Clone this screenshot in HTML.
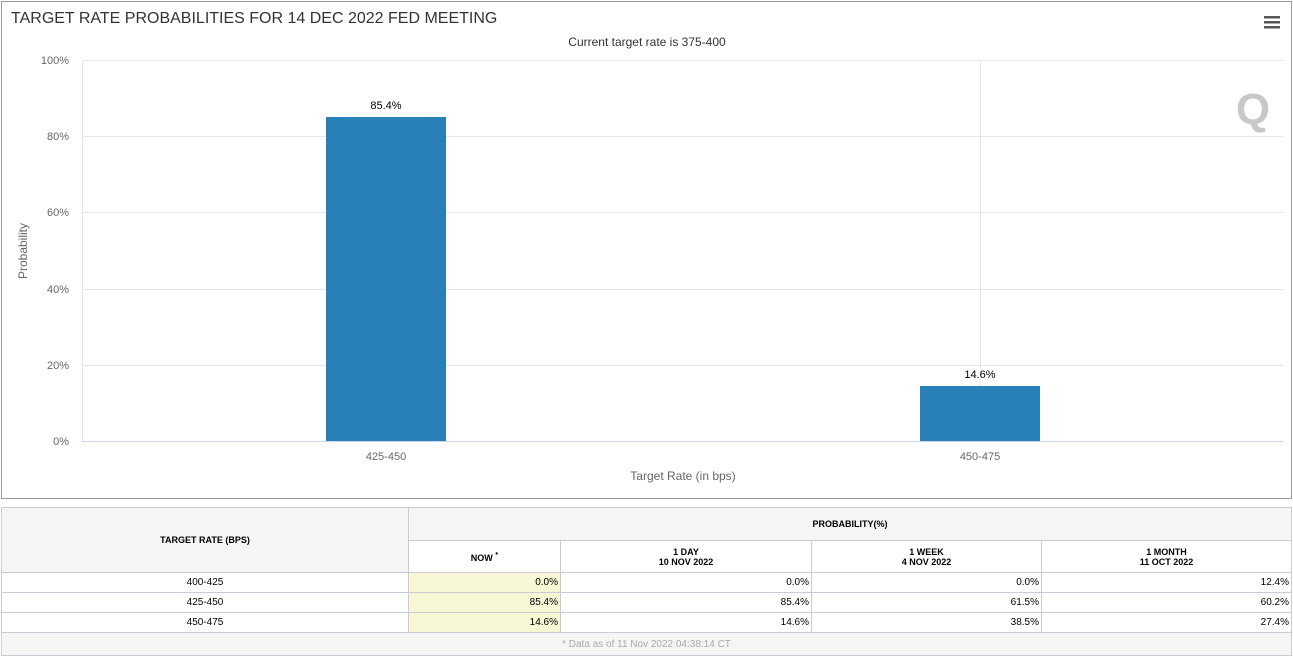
<!DOCTYPE html>
<html><head><style>
body{margin:0;width:1293px;height:653px;background:#fff;font-family:"Liberation Sans",sans-serif;position:relative;overflow:hidden}
.box{position:absolute;left:1px;top:1px;width:1289px;height:496px;border:1px solid #999}
table{position:absolute;left:1px;top:507px;width:1291px;border-collapse:collapse;font-size:10px;color:#000}
td{border:1px solid #c9cbd6;padding:0 2px;}
th{border:1px solid #c9cbd6;background:#f5f5f5;font-size:9px;font-weight:bold;}
.r td{height:19px;text-align:right}
.r td:first-child{text-align:center}
.y{background:#f7f7d5}
</style></head><body>
<div class="box"></div>
<svg width="1293" height="500" style="position:absolute;left:0;top:0" font-family="Liberation Sans, sans-serif">
<text x="11" y="23" font-size="16" fill="#333">TARGET RATE PROBABILITIES FOR 14 DEC 2022 FED MEETING</text>
<text x="647" y="46" font-size="12" fill="#333" text-anchor="middle">Current target rate is 375-400</text>
<g fill="#555"><rect x="1264" y="16" width="16" height="2.5"/><rect x="1264" y="21" width="16" height="2.5"/><rect x="1264" y="26" width="16" height="2.5"/></g>
<g stroke="#e6e6e6" stroke-width="1">
<line x1="82" y1="60.5" x2="1283" y2="60.5"/><line x1="82" y1="136.5" x2="1283" y2="136.5"/><line x1="82" y1="212.5" x2="1283" y2="212.5"/><line x1="82" y1="289.5" x2="1283" y2="289.5"/><line x1="82" y1="365.5" x2="1283" y2="365.5"/>
<line x1="82.5" y1="60" x2="82.5" y2="441"/><line x1="980.5" y1="60" x2="980.5" y2="441"/>
</g>
<line x1="82" y1="441.5" x2="1283" y2="441.5" stroke="#ccd6eb"/>
<g font-size="11" fill="#666" text-anchor="end">
<text x="69" y="64">100%</text><text x="69" y="140">80%</text><text x="69" y="216">60%</text><text x="69" y="293">40%</text><text x="69" y="369">20%</text><text x="69" y="445">0%</text></g>
<text transform="translate(27,251) rotate(-90)" font-size="12" fill="#666" text-anchor="middle">Probability</text>
<text x="1253" y="124" font-size="44" font-weight="bold" fill="#c8c8c8" text-anchor="middle">Q</text>
<rect x="326" y="117" width="120" height="324" fill="#2980b9"/>
<rect x="920" y="386" width="120" height="55" fill="#2980b9"/>
<text x="386" y="109" font-size="11" fill="#000" text-anchor="middle">85.4%</text>
<text x="980" y="378" font-size="11" fill="#000" text-anchor="middle">14.6%</text>
<text x="386" y="460" font-size="11" fill="#666" text-anchor="middle">425-450</text>
<text x="980" y="460" font-size="11" fill="#666" text-anchor="middle">450-475</text>
<text x="683" y="480" font-size="12" fill="#666" text-anchor="middle">Target Rate (in bps)</text>
</svg>
<table>
<tr style="height:33px"><th rowspan="2" style="width:404px">TARGET RATE (BPS)</th><th colspan="4">PROBABILITY(%)</th></tr>
<tr style="height:32px"><th style="width:149px;background:#fff">NOW <sup>*</sup></th><th style="width:248px;background:#fff">1 DAY<br>10 NOV 2022</th><th style="width:227px;background:#fff">1 WEEK<br>4 NOV 2022</th><th style="background:#fff">1 MONTH<br>11 OCT 2022</th></tr>
<tr class="r"><td>400-425</td><td class="y">0.0%</td><td>0.0%</td><td>0.0%</td><td>12.4%</td></tr>
<tr class="r"><td>425-450</td><td class="y">85.4%</td><td>85.4%</td><td>61.5%</td><td>60.2%</td></tr>
<tr class="r"><td>450-475</td><td class="y">14.6%</td><td>14.6%</td><td>38.5%</td><td>27.4%</td></tr>
<tr><td colspan="5" style="height:22px;background:#f5f5f5;color:#aaa;text-align:center;font-size:10px">* Data as of 11 Nov 2022 04:38:14 CT</td></tr>
</table>
</body></html>
